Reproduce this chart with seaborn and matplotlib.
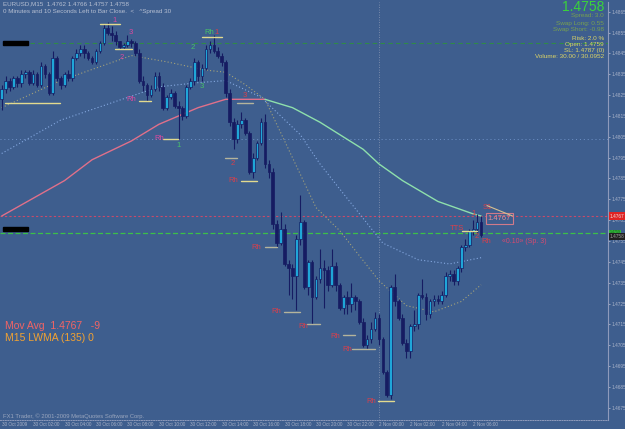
import numpy as np
import pandas as pd
import matplotlib
matplotlib.use("Agg")
import matplotlib.pyplot as plt
import seaborn as sns
from matplotlib.patches import Rectangle

sns.set_style("dark")
plt.rcParams["font.family"] = ["Liberation Sans", "DejaVu Sans"]

BG = "#3e5e8e"

# EURUSD M15 candles, prices in 1/10000
open_pts = [14823, 14828, 14832, 14829, 14833, 14831, 14835, 14836, 14831, 14835,
            14830, 14839, 14835, 14826, 14843, 14833, 14830, 14835, 14833, 14843,
            14845, 14847, 14845, 14843, 14841, 14846, 14850, 14857, 14855, 14854,
            14851, 14848, 14849, 14851, 14850, 14845, 14832, 14830, 14825, 14828,
            14834, 14829, 14819, 14824, 14826, 14820, 14819, 14815, 14829, 14832,
            14841, 14834, 14838, 14847, 14849, 14846, 14844, 14841, 14826, 14812,
            14804, 14811, 14813, 14807, 14788, 14795, 14802, 14812, 14792, 14788,
            14763, 14754, 14761, 14744, 14742, 14738, 14756, 14764, 14733, 14745,
            14728, 14737, 14742, 14741, 14734, 14743, 14734, 14723, 14728, 14725,
            14728, 14726, 14716, 14705, 14708, 14713, 14718, 14708, 14692, 14681,
            14733, 14726, 14718, 14706, 14702, 14714, 14715, 14729, 14728, 14720,
            14726, 14727, 14726, 14729, 14738, 14739, 14736, 14742, 14752, 14753,
            14760, 14761, 14764]
close_pts = [14828, 14832, 14829, 14833, 14831, 14835, 14836, 14831, 14835, 14830,
             14839, 14835, 14826, 14843, 14833, 14830, 14835, 14833, 14843, 14845,
             14847, 14845, 14843, 14841, 14846, 14850, 14857, 14855, 14854, 14851,
             14848, 14849, 14851, 14850, 14845, 14832, 14830, 14825, 14828, 14834,
             14829, 14819, 14824, 14826, 14820, 14819, 14815, 14829, 14832, 14841,
             14834, 14838, 14847, 14849, 14846, 14844, 14841, 14826, 14812, 14804,
             14811, 14813, 14807, 14788, 14795, 14802, 14812, 14792, 14788, 14763,
             14754, 14761, 14744, 14742, 14738, 14756, 14764, 14733, 14745, 14728,
             14737, 14742, 14741, 14734, 14743, 14734, 14723, 14728, 14725, 14728,
             14726, 14716, 14705, 14708, 14713, 14718, 14708, 14692, 14681, 14733,
             14726, 14718, 14706, 14702, 14714, 14715, 14729, 14728, 14720, 14726,
             14727, 14726, 14729, 14738, 14739, 14736, 14742, 14752, 14753, 14760,
             14761, 14764, 14758]
high_pts = [14830, 14834, 14833, 14834, 14834, 14837, 14837, 14837, 14837, 14836,
            14841, 14840, 14836, 14846, 14844, 14834, 14836, 14837, 14844, 14847,
            14849, 14849, 14846, 14844, 14847, 14851, 14859, 14860, 14858, 14856,
            14851, 14850, 14854, 14852, 14851, 14847, 14834, 14831, 14830, 14836,
            14836, 14831, 14825, 14828, 14827, 14822, 14820, 14830, 14833, 14843,
            14842, 14840, 14849, 14851, 14854, 14848, 14845, 14842, 14828, 14814,
            14813, 14817, 14814, 14808, 14797, 14803, 14814, 14816, 14794, 14790,
            14765, 14769, 14763, 14746, 14744, 14758, 14777, 14765, 14746, 14746,
            14738, 14751, 14746, 14743, 14751, 14745, 14735, 14729, 14731, 14735,
            14729, 14727, 14718, 14710, 14716, 14721, 14720, 14709, 14693, 14734,
            14739, 14727, 14720, 14708, 14715, 14722, 14730, 14737, 14730, 14727,
            14729, 14729, 14731, 14740, 14741, 14741, 14743, 14753, 14756, 14761,
            14765, 14768, 14767]
low_pts = [14818, 14826, 14827, 14828, 14829, 14829, 14833, 14830, 14830, 14829,
           14829, 14833, 14825, 14825, 14832, 14828, 14829, 14832, 14832, 14842,
           14844, 14843, 14842, 14840, 14840, 14845, 14849, 14854, 14851, 14849,
           14847, 14847, 14848, 14848, 14844, 14831, 14827, 14822, 14824, 14827,
           14827, 14818, 14818, 14823, 14819, 14804, 14813, 14814, 14828, 14830,
           14832, 14832, 14837, 14845, 14845, 14843, 14839, 14824, 14810, 14799,
           14802, 14809, 14806, 14787, 14785, 14794, 14801, 14790, 14785, 14761,
           14752, 14753, 14743, 14729, 14727, 14722, 14753, 14732, 14729, 14715,
           14727, 14735, 14723, 14731, 14733, 14731, 14722, 14720, 14720, 14721,
           14722, 14715, 14704, 14703, 14706, 14712, 14705, 14691, 14680, 14679,
           14724, 14717, 14705, 14699, 14699, 14712, 14713, 14727, 14717, 14718,
           14724, 14725, 14725, 14728, 14736, 14734, 14734, 14740, 14750, 14752,
           14758, 14759, 14757]

# LWMA(135) read at a few bars
ma_idx = [0, 16, 23, 33, 40, 50, 57, 62, 67, 74, 81, 92, 96, 102, 111, 120, 122]
ma_val = [1.4767, 1.4784, 1.4794, 1.4803, 1.4811, 1.4819, 1.4823, 1.4823, 1.4823,
          1.4819, 1.4812, 1.4799, 1.4792, 1.4784, 1.4774, 1.4768, 1.4767]
# dotted envelopes
olive_idx = [0, 15, 33, 42, 52, 57, 62, 67, 73, 80, 86, 96, 103, 110, 117, 122]
olive_val = [1.4819, 1.4832, 1.4844, 1.4841, 1.4837, 1.4836, 1.4830, 1.4823, 1.4799,
             1.4771, 1.4760, 1.4736, 1.4724, 1.4721, 1.4726, 1.4734]
blue_idx = [0, 15, 40, 50, 57, 66, 76, 81, 86, 97, 106, 114, 122]
blue_val = [1.4797, 1.4813, 1.4829, 1.4831, 1.4832, 1.4824, 1.4806, 1.4792, 1.4780,
            1.4754, 1.4746, 1.4744, 1.4747]

# swing level segments (start bar, end bar, price, colour key)
seg_x0 = [0.8, 25, 28.8, 35, 41, 51, 59.9, 56.8, 60.9, 67, 71.9, 77.7, 86.9, 89.2, 95.8, 117.1]
seg_x1 = [14.8, 30.1, 33.2, 38, 44.9, 56.1, 64, 59.9, 65, 70, 75.9, 81, 89.9, 95, 99.8, 120.9]
seg_y = [1.4821, 1.4859, 1.4847, 1.4822, 1.4804, 1.4853, 1.4821, 1.4795, 1.4784, 1.4752,
         1.4721, 1.4715, 1.4710, 1.4703, 1.4678, 1.4760]
seg_kind = ["y", "y", "y", "y", "y", "y", "g", "g", "y", "g", "g", "g", "g", "g", "y", "y"]

# wave labels
lab_x = [28.8, 32.9, 30.6, 32.9, 40.0, 44.9, 48.7, 51.0, 52.8, 54.8, 61.9, 58.9, 58.9,
         64.7, 69.8, 76.7, 84.8, 87.9, 94.0, 115.9, 120.9, 123.2, 120.0, 123.5]
lab_y = [1.4861, 1.4855, 1.4843, 1.4823, 1.4804, 1.4801, 1.4848, 1.4829, 1.4855, 1.4855,
         1.4825, 1.4792, 1.4784, 1.4752, 1.4721, 1.4714, 1.4709, 1.4703, 1.4678, 1.4761,
         1.4757, 1.4755, 1.4768, 1.4771]
lab_txt = ["1", "3", "2", "Rh", "Rh", "1", "2", "3", "Rh", "1", "3", "2", "Rh",
           "Rh", "Rh", "Rh", "Rh", "Rh", "Rh", "TTS", "2", "Rh", "1", "S1"]
lab_kind = ["p", "p", "p", "p", "p", "g", "g", "g", "g", "r", "r", "r", "r",
            "r", "r", "r", "r", "r", "r", "r", "r", "r", "r", "r"]

time_idx = list(range(0, 121, 8))
time_lab = ["30 Oct 2009", "30 Oct 02:00", "30 Oct 04:00", "30 Oct 06:00", "30 Oct 08:00",
            "30 Oct 10:00", "30 Oct 12:00", "30 Oct 14:00", "30 Oct 16:00", "30 Oct 18:00",
            "30 Oct 20:00", "30 Oct 22:00", "2 Nov 00:00", "2 Nov 02:00", "2 Nov 04:00",
            "2 Nov 06:00"]
price_ticks = [1.4675, 1.4685, 1.4695, 1.4705, 1.4715, 1.4725, 1.4735, 1.4745, 1.4755,
               1.4765, 1.4775, 1.4785, 1.4795, 1.4805, 1.4815, 1.4825, 1.4835, 1.4845,
               1.4855, 1.4865]

df = pd.DataFrame({"open": open_pts, "high": high_pts, "low": low_pts, "close": close_pts}) / 1e4
df["idx"] = np.arange(len(df))
up = df["close"] >= df["open"]

fig = plt.figure(figsize=(6.25, 4.29), dpi=100, facecolor=BG)
ax = fig.add_axes([0, 1 - 420 / 429, 608 / 625, 418 / 429])
ax.set_facecolor(BG)
ax.set_xlim(-0.43, 154.3)
ax.set_ylim(1.46691, 1.48697)
ax.grid(False)
for s in ["top", "left"]:
    ax.spines[s].set_visible(False)
ax.spines["right"].set_color("#8e9abb")
ax.spines["right"].set_linewidth(0.8)
ax.spines["bottom"].set_color("#8e9abb")
ax.spines["bottom"].set_linestyle((0, (1, 1.5)))
ax.spines["bottom"].set_linewidth(0.7)

# horizontal levels
ax.axhline(1.4850, xmin=0.05, color="#2f8a48", lw=0.8, ls=(0, (4, 3)))
ax.axhline(1.4804, color="#6f92c8", lw=0.7, ls=(0, (1, 3)))
ax.axhline(1.4767, color="#c84a6a", lw=0.8, ls=(0, (2, 2)))
ax.axhline(1.4759, color="#3cc048", lw=0.9, ls=(0, (4, 2)))
ax.axvline(96, color="#8c98b4", lw=0.6, ls=(0, (1, 2)))

# indicator lines
sns.lineplot(x=olive_idx, y=olive_val, ax=ax, color="#a4a27a", lw=0.8,
             linestyle=(0, (1, 2)), estimator=None)
sns.lineplot(x=blue_idx, y=blue_val, ax=ax, color="#84a8e0", lw=0.8,
             linestyle=(0, (1, 2)), estimator=None)
k = ma_idx.index(67)
sns.lineplot(x=ma_idx[:k + 1], y=ma_val[:k + 1], ax=ax, color="#e0708a", lw=1.0, estimator=None)
sns.lineplot(x=ma_idx[k:], y=ma_val[k:], ax=ax, color="#8ee0ac", lw=1.0, estimator=None)

# candles
NAVY = "#161c62"
ax.vlines(df["idx"], df["low"], df["high"], color=NAVY, lw=0.8, zorder=3)
ax.bar(df["idx"][up], np.maximum(df["close"] - df["open"], 0.00004)[up], bottom=df["open"][up],
       width=0.68, color="#1fa6d8", edgecolor=NAVY, lw=0.5, zorder=4)
ax.bar(df["idx"][~up], (df["open"] - df["close"])[~up], bottom=df["close"][~up],
       width=0.68, color=NAVY, edgecolor=NAVY, lw=0.5, zorder=4)

# swing levels and labels
seg_col = {"y": "#e2da8e", "g": "#b4b49c"}
for x0, x1, y, kd in zip(seg_x0, seg_x1, seg_y, seg_kind):
    ax.plot([x0, x1], [y, y], color=seg_col[kd], lw=1.0, zorder=5)
lab_col = {"p": "#d94aa0", "g": "#48c468", "r": "#d8404c"}
for x, y, t, kd in zip(lab_x, lab_y, lab_txt, lab_kind):
    ax.text(x, y, t, color=lab_col[kd], fontsize=5.5, ha="center", va="center", zorder=6)

# price box near the last bar
ax.add_patch(Rectangle((123.2, 1.47630), 6.8, 0.00055, fill=False, ec="#d07a8a", lw=0.8, zorder=6))
ax.text(126.6, 1.47657, "1.4767", color="#d8909a", fontsize=5.5, ha="center", va="center", zorder=6)
ax.plot([123.5, 130], [1.4772, 1.4767], color="#d8c090", lw=0.8, zorder=6)
ax.text(127.3, 1.4755, "«0.10» (Sp. 3)", color="#d84a70", fontsize=5, ha="left", va="center")

# black object labels on the left
ax.add_patch(Rectangle((0.3, 1.48490), 6.4, 0.00020, color="black", zorder=6))
ax.add_patch(Rectangle((0.3, 1.47600), 6.4, 0.00015, color="black", zorder=6))

# axes ticks
ax.yaxis.tick_right()
ax.set_yticks(price_ticks)
ax.set_yticklabels([f"{p:.4f}" for p in price_ticks])
ax.tick_params(axis="y", labelsize=3.4, colors="#a9b3c9", length=1.5, width=0.6, pad=0.8)
ax.set_xticks(time_idx)
ax.set_xticklabels(time_lab, ha="left")
ax.tick_params(axis="x", labelsize=3.3, colors="#a9b3c9", length=1, width=0.6, pad=0.5)
ax.set_xlabel("")
ax.set_ylabel("")

# axis price boxes
yt = ax.get_yaxis_transform()
ax.text(1.003, 1.4767, "1.4767", transform=yt, fontsize=3.4, color="#f0e0e0", va="center",
        ha="left", bbox=dict(boxstyle="square,pad=0.25", fc="#e02424", ec="none"))
ax.text(1.003, 1.47593, "1.4759", transform=yt, fontsize=2.6, color="#1a5a1a", va="center",
        ha="left", bbox=dict(boxstyle="square,pad=0.1", fc="#2fb83a", ec="none"))
ax.text(1.003, 1.47572, "1.4758", transform=yt, fontsize=3.4, color="#a0a0a0", va="center",
        ha="left", bbox=dict(boxstyle="square,pad=0.15", fc="#202020", ec="none"))

# header texts
def ftxt(px, py, s, **kw):
    fig.text(px / 625, 1 - py / 429, s, va="center", **kw)

ftxt(3, 4, "EURUSD,M15  1.4762 1.4766 1.4757 1.4758", fontsize=4.5, color="#b6bfd2")
ftxt(3, 11, "0 Minutes and 10 Seconds Left to Bar Close.  <   ^Spread 30", fontsize=4.5, color="#b6bfd2")
ftxt(604, 7, "1.4758", fontsize=10, color="#3ad43a", ha="right")
for py, s in [(15, "Spread: 3.0"), (23, "Swap Long: 0.55"), (29, "Swap Short: -0.98")]:
    ftxt(604, py, s, fontsize=4.6, color="#78a050", ha="right")
for py, s in [(39, "Risk: 2.0 %"), (44.5, "Open: 1.4759"), (50.5, "SL: 1.4787 (0)"),
              (57, "Volume: 30.00 / 30.0952")]:
    ftxt(604, py, s, fontsize=4.6, color="#dcd466", ha="right")
ftxt(5, 326, "Mov Avg  1.4767   -9", fontsize=7.5, color="#f26464")
ftxt(5, 338, "M15 LWMA (135) 0", fontsize=7.5, color="#f2a232")
ftxt(3, 416, "FX1 Trader, © 2001-2009 MetaQuotes Software Corp.", fontsize=4.2, color="#9aa6be")

fig.savefig("out.png", dpi=100, facecolor=BG)
